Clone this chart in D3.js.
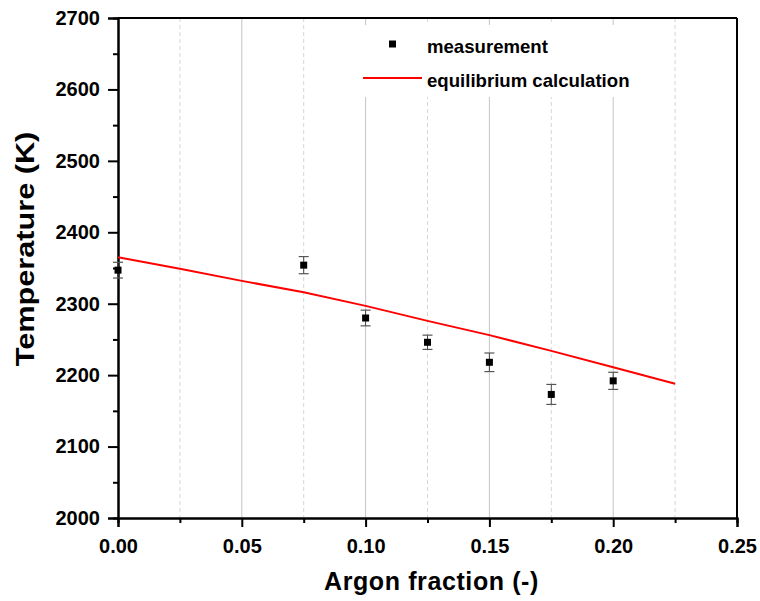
<!DOCTYPE html>
<html>
<head>
<meta charset="utf-8">
<script src="https://cdn.jsdelivr.net/npm/d3@7"></script>
<style>
  body { margin: 0; background: #fff; }
  text { font-family: "Liberation Sans", Arial, sans-serif; font-weight: bold; }
</style>
</head>
<body>
<div id="chart"></div>
<script>
// measured points
var measX = [0, 0.075, 0.1, 0.125, 0.15, 0.175, 0.2];
var measT = [2347, 2354, 2280, 2246, 2218, 2173, 2192];
var measErr = [11, 12, 11, 10, 13, 14, 12];

// equilibrium calculation curve
var calcX = [0, 0.025, 0.05, 0.075, 0.1, 0.125, 0.15, 0.175, 0.2, 0.225];
var calcT = [2365, 2349, 2332, 2316, 2297, 2276, 2256, 2234, 2211, 2188];

var xMajor = [0, 0.05, 0.1, 0.15, 0.2, 0.25];
var xMinor = [0.025, 0.075, 0.125, 0.175, 0.225];
var yMajor = [2000, 2100, 2200, 2300, 2400, 2500, 2600, 2700];
var yMinor = [2050, 2150, 2250, 2350, 2450, 2550, 2650];

var legendLabels = ["measurement", "equilibrium calculation"];

var margin = { top: 18, right: 23, bottom: 83, left: 118 },
    width = 760 - margin.left - margin.right,
    height = 601 - margin.top - margin.bottom;

var svg = d3.select("#chart").append("svg")
    .attr("width", 760)
    .attr("height", 601);

var g = svg.append("g")
    .attr("transform", "translate(" + margin.left + "," + margin.top + ")");

var xScale = d3.scaleLinear().domain([0, 0.25]).range([0, width]);
var yScale = d3.scaleLinear().domain([2000, 2700]).range([height, 0]);

// vertical grid lines
g.selectAll(".gridMajor")
    .data(xMajor.slice(1, -1))
    .enter().append("line")
    .attr("x1", function (d) { return xScale(d); })
    .attr("x2", function (d) { return xScale(d); })
    .attr("y1", 0).attr("y2", height)
    .style("stroke", "#c4c4c4").style("stroke-width", 1);

g.selectAll(".gridMinor")
    .data(xMinor)
    .enter().append("line")
    .attr("x1", function (d) { return xScale(d); })
    .attr("x2", function (d) { return xScale(d); })
    .attr("y1", 0).attr("y2", height)
    .style("stroke", "#d6d6d6").style("stroke-width", 1)
    .style("stroke-dasharray", "4,3");

// legend background hides the grid behind it
g.append("rect")
    .attr("x", 240).attr("y", 7)
    .attr("width", 292).attr("height", 72)
    .style("fill", "#fff");

// minor ticks
var xMinorAxis = d3.axisBottom(xScale).tickValues(xMinor).tickSize(5).tickFormat("");
var yMinorAxis = d3.axisLeft(yScale).tickValues(yMinor).tickSize(5).tickFormat("");

g.append("g").attr("transform", "translate(0," + height + ")").call(xMinorAxis);
g.append("g").call(yMinorAxis);

var xAxis = d3.axisBottom(xScale).tickValues(xMajor).tickSize(9).tickPadding(6)
    .tickFormat(d3.format(".2f"));
var yAxis = d3.axisLeft(yScale).tickValues(yMajor).tickSize(10).tickPadding(8)
    .tickFormat(d3.format("d"));

g.append("g")
    .attr("class", "x axis")
    .attr("transform", "translate(0," + height + ")")
    .call(xAxis);

g.append("g")
    .attr("class", "y axis")
    .call(yAxis);

g.selectAll(".axis text").style("font-size", "20px").style("fill", "#000");
g.selectAll(".x.axis text").attr("dy", "1.0em");
g.selectAll(".tick line").style("stroke", "#000").style("stroke-width", 2);
g.selectAll(".domain").style("stroke", "#000").style("stroke-width", 2);

// frame
g.append("line").attr("x1", 0).attr("x2", width).attr("y1", 0).attr("y2", 0)
    .style("stroke", "#000").style("stroke-width", 2);
g.append("line").attr("x1", width).attr("x2", width).attr("y1", 0).attr("y2", height)
    .style("stroke", "#000").style("stroke-width", 2);

// calculation line
var line = d3.line()
    .x(function (d, i) { return xScale(calcX[i]); })
    .y(function (d) { return yScale(d); });

g.append("path")
    .datum(calcT)
    .attr("d", line)
    .style("fill", "none")
    .style("stroke", "#ff0000")
    .style("stroke-width", 2);

// error bars
var eb = g.selectAll(".errbar")
    .data(measT)
    .enter().append("g");

eb.append("line")
    .attr("x1", function (d, i) { return xScale(measX[i]); })
    .attr("x2", function (d, i) { return xScale(measX[i]); })
    .attr("y1", function (d, i) { return yScale(d - measErr[i]); })
    .attr("y2", function (d, i) { return yScale(d + measErr[i]); })
    .style("stroke", "#444").style("stroke-width", 1);

[-1, 1].forEach(function (s) {
    eb.append("line")
        .attr("x1", function (d, i) { return xScale(measX[i]) - 5; })
        .attr("x2", function (d, i) { return xScale(measX[i]) + 5; })
        .attr("y1", function (d, i) { return yScale(d + s * measErr[i]); })
        .attr("y2", function (d, i) { return yScale(d + s * measErr[i]); })
        .style("stroke", "#555").style("stroke-width", 1.2);
});

// measurement markers
g.selectAll(".pt")
    .data(measT)
    .enter().append("rect")
    .attr("x", function (d, i) { return xScale(measX[i]) - 3.5; })
    .attr("y", function (d) { return yScale(d) - 3.5; })
    .attr("width", 7).attr("height", 7)
    .style("fill", "#000");

// legend
var leg = g.append("g").attr("transform", "translate(245,26)");
leg.append("rect")
    .attr("x", 26).attr("y", -3.5).attr("width", 7).attr("height", 7)
    .style("fill", "#000");
leg.append("line")
    .attr("x1", 0).attr("x2", 59).attr("y1", 34).attr("y2", 34)
    .style("stroke", "#ff0000").style("stroke-width", 2);
leg.selectAll(".legtext")
    .data(legendLabels)
    .enter().append("text")
    .attr("x", 64)
    .attr("y", function (d, i) { return 9 + i * 34; })
    .style("font-size", "18.6px")
    .text(function (d) { return d; });

// axis titles
svg.append("text")
    .attr("x", margin.left + width / 2 + 4)
    .attr("y", 590)
    .attr("text-anchor", "middle")
    .style("font-size", "25px")
    .style("letter-spacing", "0.6px")
    .text("Argon fraction (-)");

svg.append("text")
    .attr("transform", "translate(34,249) rotate(-90) scale(1.18,1)")
    .attr("text-anchor", "middle")
    .style("font-size", "26px")
    .text("Temperature (K)");
</script>
</body>
</html>
